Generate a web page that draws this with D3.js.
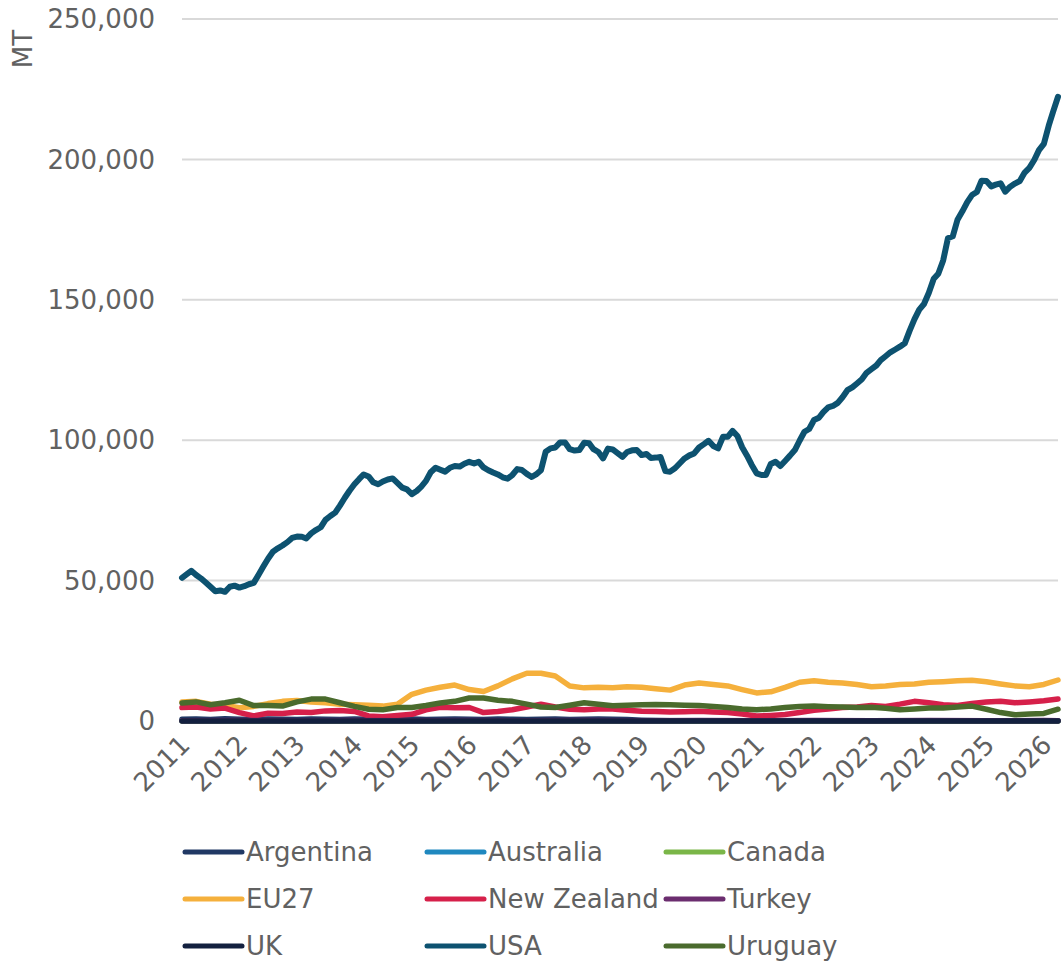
<!DOCTYPE html>
<html>
<head>
<meta charset="utf-8">
<script src="https://cdn.jsdelivr.net/npm/d3@7"></script>
<style>
  body { margin: 0; background: #fff; }
  svg { display: block; font-family: "DejaVu Sans", sans-serif; }
  .tick-label { fill: #616161; font-size: 26px; }
  .legend-label { fill: #616161; font-size: 26px; }
</style>
</head>
<body>
<div id="chart"></div>
<script>
// monthly dates Jan 2011 .. Apr 2026
const months = d3.utcMonth.range(new Date(Date.UTC(2011, 0, 1)), new Date(Date.UTC(2026, 4, 1)));
const quarters = months.filter((d, i) => i % 3 === 0);
const years = months.filter((d, i) => i % 12 === 0).concat([months[months.length - 1]]);

const yTicks = [0, 50000, 100000, 150000, 200000, 250000];
const xTickYears = d3.range(2011, 2027);

const usa = [
  51000, 52300, 53500, 52000, 50800, 49300, 47800, 46200, 46500, 46000, 47800, 48200,
  47500, 48000, 48700, 49200, 52000, 55000, 57800, 60300, 61500, 62500, 63700, 65200,
  65700, 65600, 65000, 66800, 68000, 69000, 71600, 73000, 74200, 76700, 79500, 82000,
  84300, 86200, 87800, 87100, 85000, 84300, 85300, 86000, 86400, 84800, 83100, 82500,
  80800, 81900, 83400, 85500, 88600, 90200, 89500, 88800, 90200, 90800, 90600, 91600,
  92300, 91700, 92300, 90300, 89300, 88500, 87800, 86800, 86300, 87600, 89700, 89400,
  88000, 86900, 87800, 89300, 95900, 97100, 97400, 99200, 99200, 96800, 96300, 96500,
  99100, 98900, 96800, 95800, 93500, 97000, 96700, 95400, 94100, 95800, 96400, 96500,
  94700, 95100, 93700, 93800, 94000, 89000, 88800, 90000, 91800, 93500, 94600, 95300,
  97400, 98600, 99800, 97900, 97100, 101200, 101200, 103300, 101500, 97500, 94500, 91200,
  88200, 87600, 87600, 91500, 92300, 90800, 92600, 94500, 96500, 99800, 103000, 104000,
  107200, 108000, 110000, 111700, 112200, 113300, 115300, 117800, 118800, 120200, 121700, 124000,
  125300, 126600, 128500, 129900, 131300, 132300, 133300, 134500, 139000, 143000, 146500, 148500,
  152500, 157500, 159300, 164000, 171900, 172600, 178500, 181500, 184800, 187300, 188400, 192400,
  192300, 190400, 191000, 191500, 188500, 190300, 191400, 192300, 195300, 197000, 199800, 203300,
  205500, 212000, 217000, 222300
];

const eu27 = [
  6800, 7000, 6000, 5500, 4700, 5200, 6200, 7000, 7300, 6800, 6500, 6000,
  5800, 5600, 5300, 6000, 9500, 11000, 12000, 12800, 11200, 10500, 12500, 15000,
  17000, 17000, 16000, 12500, 11800, 12000, 11800, 12200, 12000, 11500, 11000, 12800,
  13500, 13000, 12500, 11200, 10000, 10400, 12000, 13800, 14300, 13800, 13500, 13000,
  12200, 12500, 13000, 13200, 13800, 14000, 14300, 14500, 14000, 13200, 12500, 12200,
  13000, 14600
];

const newZealand = [
  4800, 5000, 4300, 4600, 3000, 1800, 2800, 2700, 3200, 3000, 3600, 3700,
  3400, 1800, 1500, 2000, 2400, 4000, 4900, 4700, 4800, 3000, 3400, 4000,
  5000, 6000, 5000, 4200, 4000, 4300, 4300, 3800, 3500, 3400, 3200, 3300,
  3500, 3200, 3000, 2500, 1800, 2000, 2300, 3000, 3800, 4300, 4800, 5000,
  5500, 5200, 6000, 7000, 6500, 5800, 5500, 6200, 6800, 7000, 6500, 6800,
  7200, 7800
];

const uruguay = [
  6400, 6800, 5800, 6500, 7400, 5500, 5500, 5300, 6800, 7800, 7800, 6500,
  5200, 4200, 4000, 4800, 4800, 5500, 6400, 7000, 8200, 8200, 7400, 7000,
  6000, 5000, 4800, 5600, 6500, 6000, 5400, 5600, 5800, 5900, 5800, 5600,
  5500, 5200, 4800, 4300, 4000, 4300, 4800, 5200, 5300, 5100, 5000, 4800,
  4900, 4500, 4000, 4300, 4600, 4600, 5000, 5300, 4200, 3000, 2200, 2500,
  2700, 4200
];

const argentina = [
  600, 700, 500, 800, 600, 500, 700, 600, 500, 700, 600, 500,
  700, 600, 500, 600, 700, 500, 600, 700, 600, 500, 700, 600,
  500, 600, 700, 500, 600, 700, 600, 500, 300, 200, 100, 100,
  100, 100, 100, 100, 100, 100, 100, 100, 100, 100, 100, 100,
  100, 100, 100, 100, 100, 100, 100, 100, 100, 100, 100, 100,
  100, 100
];

const australia = [50, 50, 50, 50, 50, 50, 50, 50, 50, 50, 50, 50, 50, 50, 50, 50, 50];
const canada = [20, 20, 20, 20, 20, 20, 20, 20, 20, 20, 20, 20, 20, 20, 20, 20, 20];
const turkey = [100, 150, 100, 150, 100, 150, 100, 150, 100, 150, 100, 150, 100, 150, 100, 150, 100];
const uk = [30, 30, 30, 30, 30, 30, 30, 30, 30, 30, 30, 30, 30, 30, 30, 30, 30];

const seriesNames = ["Argentina", "Australia", "Canada", "EU27", "New Zealand", "Turkey", "UK", "USA", "Uruguay"];
const seriesColors = ["#203864", "#1f88bf", "#7ab648", "#f5b03c", "#d6204a", "#6b2d6f", "#13203f", "#0d5270", "#4a6b2d"];
const seriesValues = [argentina, australia, canada, eu27, newZealand, turkey, uk, usa, uruguay];
const seriesDates = [quarters, years, years, quarters, quarters, years, years, months, quarters];

const width = 1061, height = 961;
const margin = { left: 182, right: 3, top: 19, bottom: 240 };

const svg = d3.select("#chart").append("svg")
  .attr("width", width)
  .attr("height", height);

const x = d3.scaleUtc()
  .domain([months[0], months[months.length - 1]])
  .range([margin.left, 1058]);

const y = d3.scaleLinear()
  .domain([0, 250000])
  .range([721, margin.top]);

// gridlines
svg.append("g")
  .selectAll("line")
  .data(yTicks)
  .join("line")
  .attr("x1", margin.left)
  .attr("x2", width - margin.right)
  .attr("y1", d => y(d))
  .attr("y2", d => y(d))
  .attr("stroke", "#d9d9d9")
  .attr("stroke-width", 2);

// y labels
svg.append("g")
  .selectAll("text")
  .data(yTicks)
  .join("text")
  .attr("class", "tick-label")
  .attr("x", 155)
  .attr("y", d => y(d))
  .attr("dy", "0.35em")
  .attr("text-anchor", "end")
  .text(d3.format(","));

svg.append("text")
  .attr("class", "tick-label")
  .attr("transform", "translate(23,49) rotate(-90)")
  .attr("text-anchor", "middle")
  .attr("dy", "0.35em")
  .text("MT");

// x labels
svg.append("g")
  .selectAll("text")
  .data(xTickYears)
  .join("text")
  .attr("class", "tick-label")
  .attr("transform", d => `translate(${x(new Date(Date.UTC(d, 0, 1))) + 3},740) rotate(-45)`)
  .attr("text-anchor", "end")
  .attr("dy", "0.35em")
  .text(d => d);

// lines
const line = d3.line()
  .x(d => x(d[0]))
  .y(d => y(d[1]));

svg.append("g")
  .selectAll("path")
  .data(seriesNames.map((name, i) => ({
    name,
    color: seriesColors[i],
    points: seriesValues[i].map((v, j) => [seriesDates[i][j], v])
  })))
  .join("path")
  .attr("fill", "none")
  .attr("stroke", d => d.color)
  .attr("stroke-width", d => d.name === "USA" ? 6 : 5.5)
  .attr("stroke-linejoin", "round")
  .attr("stroke-linecap", "round")
  .attr("d", d => line(d.points));

// legend
const colX = [185, 427, 666];
const rowY = [852, 899, 946];
const legend = svg.append("g")
  .selectAll("g")
  .data(seriesNames)
  .join("g")
  .attr("transform", (d, i) => `translate(${colX[i % 3]},${rowY[Math.floor(i / 3)]})`);

legend.append("line")
  .attr("x1", 0)
  .attr("x2", 57)
  .attr("stroke", (d, i) => seriesColors[i])
  .attr("stroke-width", 5)
  .attr("stroke-linecap", "round");

legend.append("text")
  .attr("class", "legend-label")
  .attr("x", 61)
  .attr("dy", "0.35em")
  .text(d => d);
</script>
</body>
</html>
